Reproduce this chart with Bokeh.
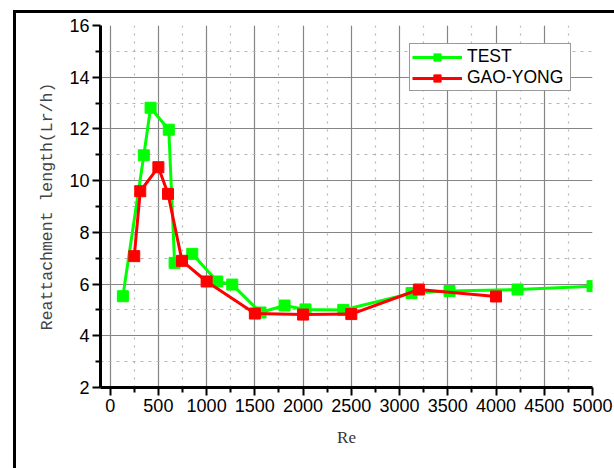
from bokeh.plotting import figure
from bokeh.layouts import column
from bokeh.models import FixedTicker, Legend, LegendItem, Range1d
from bokeh.embed import file_html
from bokeh.resources import INLINE

# Data
test_re = [132, 349, 419, 608, 668, 851, 1110, 1266, 1559, 1808, 2025, 2416, 3124, 3518, 4223, 5000]
test_lr = [5.53, 10.98, 12.82, 11.97, 6.82, 7.17, 6.10, 5.98, 4.90, 5.17, 5.02, 5.00, 5.65, 5.73, 5.79, 5.92]

gy_re = [250, 312, 500, 600, 745, 1000, 1500, 2000, 2500, 3200, 4000]
gy_lr = [7.08, 9.59, 10.52, 9.49, 6.90, 6.10, 4.86, 4.82, 4.84, 5.79, 5.52]

x_ticks = [0, 500, 1000, 1500, 2000, 2500, 3000, 3500, 4000, 4500, 5000]
x_minor = [250, 750, 1250, 1750, 2250, 2750, 3250, 3750, 4250, 4750]
y_ticks = [2, 4, 6, 8, 10, 12, 14, 16]
y_minor = [3, 5, 7, 9, 11, 13, 15]

x_title = "Re"
y_title = "Reattachment length(Lr/h)"

p = figure(width=598, height=455, x_range=Range1d(-100, 5000), y_range=Range1d(2, 16),
           output_backend="svg", toolbar_location=None,
           min_border_left=84, min_border_right=22, min_border_top=12, min_border_bottom=81)
p.outline_line_color = None
p.background_fill_color = "white"
p.border_fill_color = "white"

tick_font = "Liberation Sans"
for ax in (p.xaxis[0], p.yaxis[0]):
    ax.axis_line_color = "black"
    ax.axis_line_width = 3
    ax.major_tick_line_color = "black"
    ax.major_tick_line_width = 2
    ax.minor_tick_line_color = "black"
    ax.minor_tick_line_width = 2
    ax.major_tick_out = 8
    ax.major_tick_in = 0
    ax.minor_tick_out = 5
    ax.minor_tick_in = 0
    ax.major_label_text_font = tick_font
    ax.major_label_text_font_size = "18px"
    ax.major_label_text_color = "black"
    ax.axis_label_text_font_style = "normal"

p.xaxis.ticker = FixedTicker(ticks=x_ticks, minor_ticks=x_minor)
p.yaxis.ticker = FixedTicker(ticks=y_ticks, minor_ticks=y_minor)
p.xaxis.major_label_standoff = 3
p.yaxis.major_label_standoff = 3

p.xaxis.axis_label = x_title
p.xaxis.axis_label_text_font = "Liberation Serif"
p.xaxis.axis_label_text_font_size = "17px"
p.xaxis.axis_label_text_color = "#333333"
p.xaxis.axis_label_standoff = 13

p.yaxis.axis_label = y_title
p.yaxis.axis_label_text_font = "Liberation Mono"
p.yaxis.axis_label_text_font_size = "16.5px"
p.yaxis.axis_label_text_color = "#444444"
p.yaxis.axis_label_standoff = 9

p.xgrid.ticker = FixedTicker(ticks=x_ticks[:-1], minor_ticks=x_minor)
p.ygrid.ticker = FixedTicker(ticks=y_ticks[1:-1], minor_ticks=y_minor)
for g in (p.xgrid[0], p.ygrid[0]):
    g.grid_line_color = "#858585"
    g.grid_line_width = 1.2
    g.minor_grid_line_color = "#b5b5b5"
    g.minor_grid_line_width = 1.2
p.xgrid.minor_grid_line_dash = "2 6"
p.ygrid.minor_grid_line_dash = "3 5"

g_line = p.line(test_re, test_lr, line_color="#00ff00", line_width=3)
g_pts = p.scatter(test_re, test_lr, marker="square", size=11, fill_color="#00ff00", line_color="#00ff00")
r_line = p.line(gy_re, gy_lr, line_color="#ff0000", line_width=3)
r_pts = p.scatter(gy_re, gy_lr, marker="square", size=11, fill_color="#ff0000", line_color="#ff0000")

legend = Legend(items=[LegendItem(label="TEST", renderers=[g_line, g_pts]),
                       LegendItem(label="GAO-YONG", renderers=[r_line, r_pts])],
                location=(309, 296), orientation="vertical")
legend.label_text_font = tick_font
legend.label_text_font_size = "17.5px"
legend.label_text_color = "black"
legend.glyph_width = 50
legend.glyph_height = 18
legend.label_height = 18
legend.label_width = 101
legend.label_standoff = 5
legend.spacing = 0
legend.padding = 2
legend.margin = 0
legend.border_line_color = "#333333"
legend.border_line_width = 1
legend.background_fill_color = "white"
legend.background_fill_alpha = 1
p.add_layout(legend)

root = column(p, styles={"margin-left": "13px", "margin-top": "10px",
                         "border-top": "3px solid black", "border-left": "3px solid black"})

open("out.html", "w").write(file_html(root, INLINE))
